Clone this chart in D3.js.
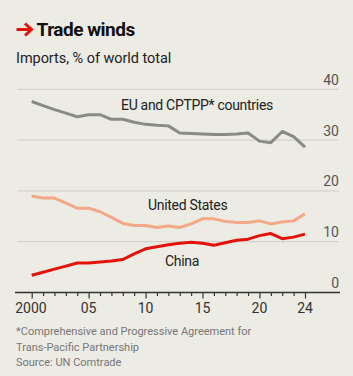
<!DOCTYPE html>
<html><head><meta charset="utf-8">
<script src="https://cdn.jsdelivr.net/npm/d3@7"></script>
<style>
html,body{margin:0;padding:0;background:#ecebe4;}
svg{display:block;}
text{font-family:Roboto, "Noto Sans", sans-serif;}
</style></head>
<body><svg id="c" width="353" height="376"></svg>
<script>
const years = d3.range(2000, 2025);
const euCptpp = [37.6,36.8,36.0,35.3,34.6,35.0,35.0,34.1,34.1,33.5,33.1,32.9,32.8,31.4,31.3,31.2,31.1,31.1,31.2,31.4,29.8,29.5,31.7,30.7,28.6];
const unitedStates = [19.0,18.6,18.6,17.6,16.6,16.6,15.9,14.8,13.6,13.2,13.2,12.8,13.1,12.8,13.5,14.5,14.5,14.0,13.8,13.8,14.1,13.5,13.9,14.1,15.5];
const china = [3.4,4.0,4.6,5.2,5.8,5.8,6.0,6.2,6.5,7.6,8.6,9.0,9.4,9.7,9.9,9.7,9.3,9.8,10.3,10.5,11.2,11.6,10.6,10.9,11.5];
const yTicks = [0,10,20,30,40];
const xTickLabels = [[2000,"2000"],[2005,"05"],[2010,"10"],[2015,"15"],[2020,"20"],[2024,"24"]];

const svg = d3.select("#c");
const x = d3.scaleLinear().domain([2000,2024]).range([31.7,305]);
const y = d3.scaleLinear().domain([0,40]).range([292.5,89.3]);

// title arrow
svg.append("path").attr("d","M16.5,29.5 H31 M25,23.5 L31.5,29.5 L25,35.5")
  .attr("fill","none").attr("stroke","#e3120b").attr("stroke-width",3)
  .attr("stroke-linecap","butt").attr("stroke-linejoin","miter");
svg.append("text").attr("x",36.5).attr("y",36).attr("fill","#111")
  .attr("font-size",19).attr("font-weight",700).attr("letter-spacing",-0.5).text("Trade winds");
svg.append("text").attr("x",16).attr("y",63).attr("fill","#222")
  .attr("font-size",14.5).attr("letter-spacing",-0.05).text("Imports, % of world total");

// gridlines
svg.append("g").selectAll("line").data(yTicks.filter(d=>d>0)).join("line")
  .attr("x1",17).attr("x2",339).attr("y1",d=>y(d)).attr("y2",d=>y(d))
  .attr("stroke","#cfcdc6").attr("stroke-width",1);
svg.append("g").selectAll("text").data(yTicks).join("text")
  .attr("x",339).attr("y",d=>y(d)-4.5).attr("text-anchor","end")
  .attr("font-size",14).attr("fill","#555").text(d=>d);

// x axis
const xAxis = d3.axisBottom(x).tickValues(years).tickSize(4).tickFormat("");
const gx = svg.append("g").attr("transform",`translate(0,${y(0)})`).call(xAxis);
gx.select(".domain").remove();
gx.selectAll(".tick line").attr("stroke","#333").attr("stroke-width",1.2)
  .attr("y2",d=>d%5===0||d===2024?6:3.5);
svg.append("line").attr("x1",15).attr("x2",340).attr("y1",y(0)).attr("y2",y(0))
  .attr("stroke","#333").attr("stroke-width",1.4);
svg.append("g").selectAll("text").data(xTickLabels).join("text")
  .attr("x",d=>x(d[0])).attr("y",313).attr("text-anchor",d=>d[0]===2000?"start":"middle")
  .attr("dx",d=>d[0]===2000?-16.5:0)
  .attr("font-size",14).attr("fill","#333").text(d=>d[1]);

// lines
const line = vals => d3.line().x((d,i)=>x(years[i])).y(d=>y(d))(vals);
[[euCptpp,"#8a8a86"],[unitedStates,"#f3a888"],[china,"#e3120b"]].forEach(([v,c])=>{
  svg.append("path").attr("d",line(v)).attr("fill","none").attr("stroke",c)
    .attr("stroke-width",3).attr("stroke-linejoin","round");
});

// series labels
const lab = (t,xx,yy)=>svg.append("text").attr("x",xx).attr("y",yy).attr("font-size",14)
  .attr("fill","#222").attr("letter-spacing",-0.3).text(t);
lab("EU and CPTPP* countries",121,109.5);
lab("United States",148,210);
lab("China",165,266);

// footnotes
const notes = ["*Comprehensive and Progressive Agreement for","Trans-Pacific Partnership","Source: UN Comtrade"];
svg.append("g").selectAll("text").data(notes).join("text")
  .attr("x",16).attr("y",(d,i)=>335+i*15.5).attr("font-size",11).attr("fill","#777")
  .attr("letter-spacing",0).text(d=>d);
</script></body></html>
